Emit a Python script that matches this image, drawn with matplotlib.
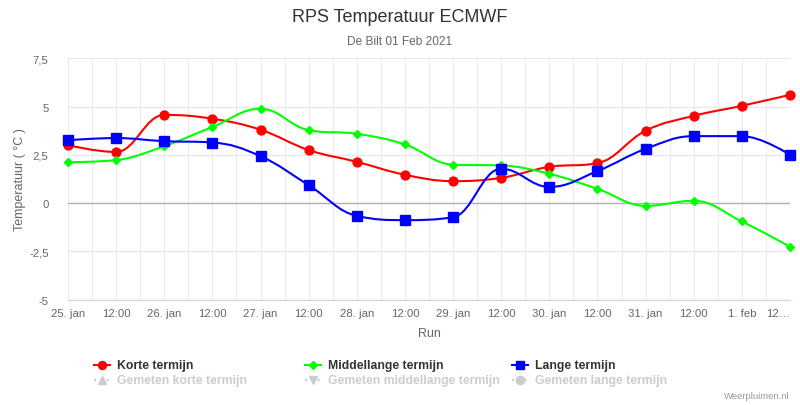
import matplotlib
matplotlib.use("Agg")
import matplotlib.pyplot as plt
from matplotlib.path import Path
from matplotlib.patches import PathPatch
from matplotlib.lines import Line2D
import numpy as np

plt.rcParams['font.family'] = ['Liberation Sans', 'DejaVu Sans']

tick_labels = ["25. jan", "12:00", "26. jan", "12:00", "27. jan", "12:00", "28. jan", "12:00",
               "29. jan", "12:00", "30. jan", "12:00", "31. jan", "12:00", "1. feb", "12…"]
korte = [3.0, 2.65, 4.57, 4.37, 3.80, 2.75, 2.14, 1.47, 1.14, 1.31, 1.88, 2.07, 3.75, 4.52, 5.04, 5.61]
middel = [2.12, 2.23, 2.95, 3.94, 4.89, 3.78, 3.59, 3.04, 1.99, 1.95, 1.52, 0.74, -0.14, 0.12, -0.95, -2.26]
lange = [3.26, 3.37, 3.21, 3.14, 2.43, 0.93, -0.66, -0.88, -0.73, 1.78, 0.84, 1.66, 2.81, 3.47, 3.47, 2.50]
y_ticks = [-5, -2.5, 0, 2.5, 5, 7.5]
y_tick_labels = ["-5", "-2,5", "0", "2,5", "5", "7,5"]


def spline_path(xs, ys, sm=1.5):
    n = len(xs)
    verts = [(xs[0], ys[0])]
    codes = [Path.MOVETO]
    rc = [None] * n
    lc = [None] * n
    for i in range(n):
        if i == 0 or i == n - 1:
            lc[i] = (xs[i], ys[i]); rc[i] = (xs[i], ys[i]); continue
        px, py = xs[i], ys[i]
        lx, ly = xs[i - 1], ys[i - 1]
        nx, ny = xs[i + 1], ys[i + 1]
        d = sm + 1
        lcx = (sm * px + lx) / d; lcy = (sm * py + ly) / d
        rcx = (sm * px + nx) / d; rcy = (sm * py + ny) / d
        if rcx != lcx:
            corr = ((rcy - lcy) * (rcx - px)) / (rcx - lcx) + py - rcy
            lcy += corr; rcy += corr
        if lcy > ly and lcy > py:
            lcy = max(ly, py); rcy = 2 * py - lcy
        elif lcy < ly and lcy < py:
            lcy = min(ly, py); rcy = 2 * py - lcy
        if rcy > ny and rcy > py:
            rcy = max(ny, py); lcy = 2 * py - rcy
        elif rcy < ny and rcy < py:
            rcy = min(ny, py); lcy = 2 * py - rcy
        lc[i] = (lcx, lcy); rc[i] = (rcx, rcy)
    for i in range(1, n):
        verts += [rc[i - 1], lc[i], (xs[i], ys[i])]
        codes += [Path.CURVE4] * 3
    return Path(verts, codes)


fig = plt.figure(figsize=(8, 4.06), dpi=100)
ax = fig.add_axes([68 / 800, (406 - 300.7) / 406, (790 - 68) / 800, (300.7 - 59.3) / 406])

x = np.arange(len(tick_labels))
ax.set_xlim(x[0], x[-1])
ax.set_ylim(-5, 7.5)

# grid
for xv in np.arange(0, len(tick_labels) - 0.5, 0.5):
    ax.axvline(xv, color="#ebebeb", lw=0.8, zorder=0)
for yv in y_ticks:
    if yv == 0:
        ax.axhline(0, color="#b0b0b0", lw=1.0, zorder=1)
    elif yv != -5:
        ax.axhline(yv, color="#e6e6e6", lw=0.8, zorder=0)

series = [(korte, "#ff0000", "o", 6.4, "Korte termijn"),
          (middel, "#00ff00", "D", 4.2, "Middellange termijn"),
          (lange, "#0000ff", "s", 6.6, "Lange termijn")]
for vals, col, mk, ms, lab in series:
    p = spline_path(list(x.astype(float)), vals)
    ax.add_patch(PathPatch(p, fill=False, edgecolor=col, lw=1.5, zorder=3, clip_on=False))
    ax.plot(x, vals, linestyle="none", marker=mk, color=col, markersize=ms, zorder=4, clip_on=False)

for s in ["top", "right", "left"]:
    ax.spines[s].set_visible(False)
ax.spines["bottom"].set_color("#ccd6eb")
ax.spines["bottom"].set_linewidth(1)

ax.set_xticks(x)
ax.set_xticklabels(tick_labels)
ax.set_yticks(y_ticks)
ax.set_yticklabels(y_tick_labels)
ax.tick_params(axis="both", length=0, labelsize=8.2, colors="#666666")
ax.tick_params(axis="x", pad=6)
ax.tick_params(axis="y", pad=14)
for t in ax.get_yticklabels():
    t.set_horizontalalignment("right")
ax.get_xticklabels()[-1].set_horizontalalignment("right")

fig.text(20 / 800, 1 - 180 / 406, "Temperatuur ( °C )", rotation=90, ha="center", va="center",
         fontsize=9, color="#666666")
fig.text(429 / 800, 1 - 334 / 406, "Run", ha="center", va="center", fontsize=9, color="#666666")

fig.text(400 / 800, 1 - 18 / 406, "RPS Temperatuur ECMWF", ha="center", va="center",
         fontsize=13, color="#333333")
fig.text(400 / 800, 1 - 42 / 406, "De Bilt 01 Feb 2021", ha="center", va="center",
         fontsize=8.6, color="#666666")

# legend
leg_x = [102, 313, 520]
gem = [("^", "Gemeten korte termijn"), ("v", "Gemeten middellange termijn"), ("o", "Gemeten lange termijn")]
for i, (vals, col, mk, ms, lab) in enumerate(series):
    cx = leg_x[i]
    yy = 1 - 366 / 406
    fig.add_artist(Line2D([(cx - 8) / 800, (cx + 8) / 800], [yy, yy], color=col, lw=1.5,
                          transform=fig.transFigure))
    fig.add_artist(Line2D([cx / 800], [yy], marker=mk, color=col, markersize=ms * 0.9,
                          transform=fig.transFigure))
    fig.text((cx + 15) / 800, yy, lab, ha="left", va="center", fontsize=8.8,
             fontweight="bold", color="#333333")
    yy2 = 1 - 381 / 406
    fig.add_artist(Line2D([(cx - 8) / 800, (cx + 8) / 800], [yy2, yy2], color="#cccccc", lw=1.5,
                          linestyle=(0, (1, 2)), transform=fig.transFigure))
    fig.add_artist(Line2D([cx / 800], [yy2], marker=gem[i][0], color="#cccccc", markersize=6,
                          transform=fig.transFigure))
    fig.text((cx + 15) / 800, yy2, gem[i][1], ha="left", va="center", fontsize=8.8,
             fontweight="bold", color="#cccccc")

fig.text(790 / 800, 1 - 397 / 406, "Weerpluimen.nl", ha="right", va="center", fontsize=6.8,
         color="#999999")

fig.savefig("out.png", dpi=100)
